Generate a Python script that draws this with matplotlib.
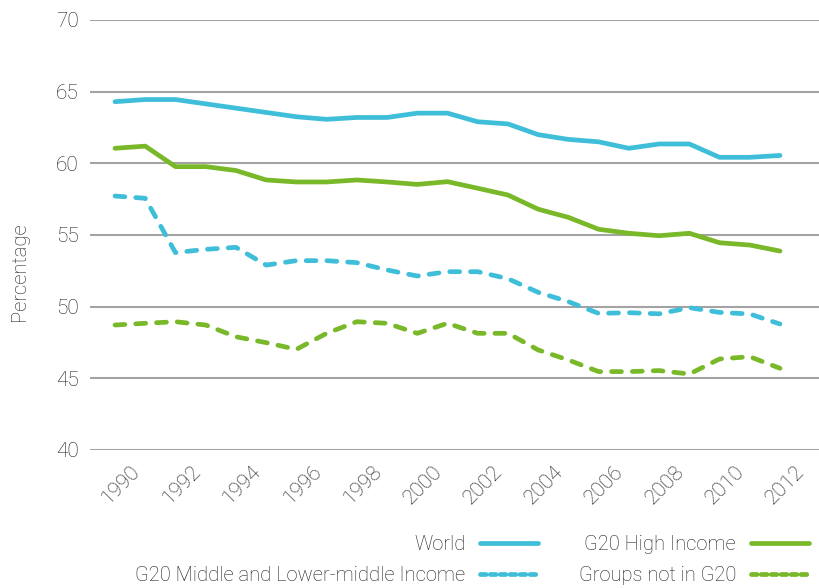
import numpy as np
import matplotlib.pyplot as plt
import matplotlib.transforms as mtransforms
from matplotlib.lines import Line2D

# data
years = list(range(1990, 2013))
world = [64.3, 64.45, 64.45, 64.15, 63.85, 63.55, 63.25, 63.07, 63.2, 63.2, 63.5, 63.5,
         62.9, 62.75, 62.0, 61.67, 61.5, 61.05, 61.35, 61.35, 60.42, 60.42, 60.55]
g20_high = [61.05, 61.2, 59.77, 59.77, 59.5, 58.84, 58.7, 58.7, 58.84, 58.7, 58.53, 58.72,
            58.26, 57.79, 56.8, 56.23, 55.4, 55.12, 54.95, 55.12, 54.46, 54.3, 53.88]
g20_middle = [57.72, 57.56, 53.77, 54.0, 54.14, 52.9, 53.21, 53.21, 53.07, 52.56, 52.14, 52.44,
              52.44, 51.95, 51.0, 50.35, 49.53, 49.58, 49.5, 49.93, 49.6, 49.49, 48.79]
not_g20 = [48.72, 48.84, 48.95, 48.72, 47.9, 47.49, 47.02, 48.14, 48.95, 48.84, 48.14, 48.84,
           48.14, 48.14, 46.98, 46.28, 45.47, 45.47, 45.54, 45.3, 46.35, 46.51, 45.7]
tick_years = list(range(1990, 2013, 2))
y_ticks = [40, 45, 50, 55, 60, 65, 70]

blue = '#3ebed8'
green = '#79b829'
txt = '#1e1e1e'

plt.rcParams['font.family'] = ['Roboto', 'DejaVu Sans']
plt.rcParams['font.weight'] = 'light'

fig = plt.figure(figsize=(8.19, 5.88), dpi=100)
ax = fig.add_axes([90 / 819, 1 - 450 / 588, 729 / 819, 430 / 588])

lw = 3.4
ax.plot(years, world, color=blue, lw=lw, solid_capstyle='round', solid_joinstyle='round')
ax.plot(years, g20_high, color=green, lw=lw, solid_capstyle='round', solid_joinstyle='round')
ax.plot(years, g20_middle, color=blue, lw=lw, linestyle=(0, (2.1, 2.3)),
        dash_capstyle='round', dash_joinstyle='round')
ax.plot(years, not_g20, color=green, lw=lw, linestyle=(0, (2.1, 2.3)),
        dash_capstyle='round', dash_joinstyle='round')

px = 665 / 22  # pixels per year
ax.set_xlim(1990 - 25 / px, 2012 + 39 / px)
ax.set_ylim(40, 70)
ax.set_yticks(y_ticks)
ax.yaxis.grid(True, color='#a3a3a3', lw=1.5)
ax.set_axisbelow(True)
for s in ax.spines.values():
    s.set_visible(False)
ax.tick_params(axis='both', length=0, labelsize=15, labelcolor=txt)
ax.tick_params(axis='y', pad=8)

ax.set_xticks(tick_years)
ax.set_xticklabels([str(y) for y in tick_years], rotation=45, ha='right',
                   rotation_mode='anchor')
offset = mtransforms.ScaledTranslation(15 / 100, -7 / 100, fig.dpi_scale_trans)
for lab in ax.get_xticklabels():
    lab.set_transform(lab.get_transform() + offset)

fig.text(20 / 819, 1 - 272 / 588, 'Percentage', rotation=90, ha='center', va='center',
         fontsize=14.5, color=txt)

handles = [Line2D([], [], color=blue, lw=lw, solid_capstyle='round'),
           Line2D([], [], color=blue, lw=lw, linestyle=(0, (1.2, 0.9)), dash_capstyle='round'),
           Line2D([], [], color=green, lw=lw, solid_capstyle='round'),
           Line2D([], [], color=green, lw=lw, linestyle=(0, (1.2, 0.9)), dash_capstyle='round')]
labels = ['World', 'G20 Middle and Lower-middle Income', 'G20 High Income', 'Groups not in G20']
leg = fig.legend(handles, labels, ncol=2, markerfirst=False, frameon=False,
                 loc='lower right', bbox_to_anchor=(820 / 819, -8 / 588),
                 fontsize=14.5, handlelength=2.9, handletextpad=0.72, columnspacing=2.0,
                 labelspacing=0.58, borderaxespad=0.15)
for t in leg.get_texts():
    t.set_color(txt)

fig.savefig('out.png', dpi=100)
